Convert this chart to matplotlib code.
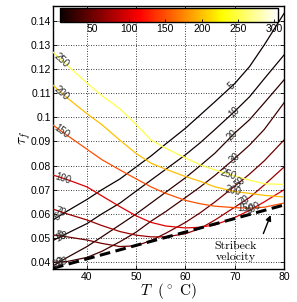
import numpy as np
import matplotlib
matplotlib.use("Agg")
import matplotlib.pyplot as plt
from matplotlib import colors, cm

# ---------------- data ----------------
T = [33.1, 36, 40, 43, 46.7, 50, 53, 56, 60, 63, 66, 70, 73, 76, 80]
velocities = [5, 10, 20, 30, 50, 70, 100, 150, 200, 250]

tau_v5   = [0.0575, 0.0612, 0.0660, 0.0700, 0.0745, 0.0795, 0.0840, 0.0890, 0.0955, 0.1010, 0.1065, 0.1140, 0.1210, 0.1300, 0.1430]
tau_v10  = [0.0490, 0.0520, 0.0560, 0.0600, 0.0645, 0.0695, 0.0740, 0.0785, 0.0845, 0.0895, 0.0950, 0.1025, 0.1085, 0.1160, 0.1258]
tau_v20  = [0.0385, 0.0420, 0.0465, 0.0505, 0.0555, 0.0600, 0.0645, 0.0690, 0.0750, 0.0800, 0.0852, 0.0935, 0.0990, 0.1060, 0.1155]
tau_v30  = [0.0400, 0.0403, 0.0420, 0.0445, 0.0485, 0.0525, 0.0570, 0.0610, 0.0668, 0.0712, 0.0760, 0.0830, 0.0885, 0.0950, 0.1060]
tau_v50  = [0.0513, 0.0505, 0.0492, 0.0478, 0.0465, 0.0468, 0.0490, 0.0520, 0.0565, 0.0605, 0.0650, 0.0715, 0.0765, 0.0820, 0.0906]
tau_v70  = [0.0620, 0.0600, 0.0575, 0.0552, 0.0527, 0.0512, 0.0505, 0.0505, 0.0518, 0.0540, 0.0575, 0.0628, 0.0668, 0.0720, 0.0794]
tau_v100 = [0.0761, 0.0742, 0.0712, 0.0675, 0.0630, 0.0592, 0.0565, 0.0550, 0.0542, 0.0545, 0.0555, 0.0585, 0.0615, 0.0650, 0.0700]
tau_v150 = [0.0968, 0.0925, 0.0868, 0.0825, 0.0782, 0.0745, 0.0712, 0.0685, 0.0656, 0.0642, 0.0632, 0.0626, 0.0624, 0.0628, 0.0645]
tau_v200 = [0.1133, 0.1080, 0.1015, 0.0970, 0.0905, 0.0850, 0.0810, 0.0785, 0.0755, 0.0735, 0.0712, 0.0693, 0.0685, 0.0677, 0.0670]
tau_v250 = [0.1270, 0.1215, 0.1142, 0.1090, 0.1035, 0.0970, 0.0906, 0.0872, 0.0832, 0.0803, 0.0782, 0.0757, 0.0740, 0.0725, 0.0722]

stribeck_T = [33.1, 40, 50, 60, 70, 80]
stribeck_tau = [0.0375, 0.0414, 0.0470, 0.0525, 0.0581, 0.0637]

x_ticks = [40, 50, 60, 70, 80]
y_ticks = [0.04, 0.05, 0.06, 0.07, 0.08, 0.09, 0.10, 0.11, 0.12, 0.13, 0.14]
y_tick_labels = ["0.04", "0.05", "0.06", "0.07", "0.08", "0.09", "0.1", "0.11", "0.12", "0.13", "0.14"]
cbar_ticks = [50, 100, 150, 200, 250, 300]

curves = [tau_v5, tau_v10, tau_v20, tau_v30, tau_v50, tau_v70,
          tau_v100, tau_v150, tau_v200, tau_v250]

# ---------------- figure ----------------
plt.rcParams["mathtext.fontset"] = "cm"
plt.rcParams["font.family"] = ["Liberation Sans", "DejaVu Sans"]

fig = plt.figure(figsize=(2.97, 3.02), dpi=100)
ax = fig.add_axes([53 / 297, 1 - 269 / 302, 231 / 297, 263 / 302])
ax.set_xlim(33.1, 80)
ax.set_ylim(0.0372, 0.1461)

norm = colors.Normalize(vmin=5, vmax=305)
cmap = plt.get_cmap("hot")

for v, c in zip(velocities, curves):
    ax.plot(T, c, color=cmap(norm(v)), lw=0.9, zorder=3)

ax.plot(stribeck_T, stribeck_tau, color="k", lw=2.2, ls=(0, (3.5, 1.8)), zorder=4)

# grid & ticks
ax.set_xticks(x_ticks)
ax.set_yticks(y_ticks)
ax.set_yticklabels(y_tick_labels)
ax.grid(True, color="k", lw=0.6, ls=(0, (1, 2)), zorder=1)
ax.tick_params(direction="in", length=3, width=0.6, top=True, right=True,
               labelsize=7.5)
ax.tick_params(axis="y", pad=1.5)
ax.tick_params(axis="x", pad=2.5)
for s in ax.spines.values():
    s.set_linewidth(1.0)

ax.set_xlabel(r"$T\ \ (^\circ\ \mathrm{C})$", fontsize=11, labelpad=-1)
ax.set_ylabel(r"$\tau_f$", fontsize=11, labelpad=-2)

# curve labels
def label_on(curve, tpos, text):
    y = np.interp(tpos, T, curve)
    p1 = ax.transData.transform((tpos - 0.8, np.interp(tpos - 0.8, T, curve)))
    p2 = ax.transData.transform((tpos + 0.8, np.interp(tpos + 0.8, T, curve)))
    ang = np.degrees(np.arctan2(p2[1] - p1[1], p2[0] - p1[0]))
    ax.text(tpos, y, text, rotation=ang, rotation_mode="anchor", ha="center",
            va="center", fontsize=7, color="#2a2a2a", zorder=5)

left_labels = [(tau_v250, 34.9, "250"), (tau_v200, 34.9, "200"), (tau_v150, 34.9, "150"),
               (tau_v100, 35.1, "100"), (tau_v70, 34.7, "70"), (tau_v50, 34.7, "50"),
               (tau_v5, 34.0, "5"), (tau_v10, 34.6, "10"),
               (tau_v30, 34.9, "30"), (tau_v20, 34.3, "20")]
right_labels = [(tau_v5, 69.4, "5"), (tau_v10, 69.8, "10"), (tau_v20, 69.6, "20"),
                (tau_v30, 70.0, "30"), (tau_v50, 71.0, "50"), (tau_v70, 72.0, "70"),
                (tau_v250, 68.7, "250"), (tau_v200, 69.6, "200"),
                (tau_v150, 72.2, "150"), (tau_v100, 73.6, "100")]
for c, tp, txt in left_labels + right_labels:
    label_on(c, tp, txt)

# Stribeck annotation
ax.annotate("", xy=(77.5, 0.0606), xytext=(75.6, 0.0508),
            arrowprops=dict(arrowstyle="-|>", color="k", lw=1.0, mutation_scale=8),
            zorder=6)
ax.text(70.2, 0.0442, "Stribeck\nvelocity", ha="center", va="center",
        fontsize=8.5, family="cmr10", linespacing=1.1, zorder=6)

# colorbar inside the axes
cax = ax.inset_axes([0.030, 0.939, 0.944, 0.053])
sm = cm.ScalarMappable(norm=norm, cmap=cmap)
cb = fig.colorbar(sm, cax=cax, orientation="horizontal", ticks=cbar_ticks)
cb.ax.tick_params(direction="in", length=2, width=0.6, labelsize=7.5, pad=1.5)
cb.outline.set_linewidth(1.0)

fig.savefig("out.png", dpi=100)
